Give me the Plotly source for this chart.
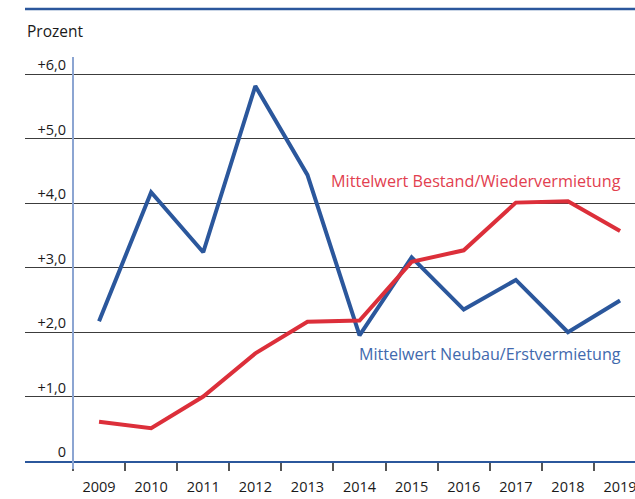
import plotly.graph_objects as go

# ---- data ----
years = [str(y) for y in range(2009, 2020)]
neubau = [2.17, 4.17, 3.24, 5.82, 4.44, 1.95, 3.16, 2.35, 2.81, 2.00, 2.49]
bestand = [0.61, 0.51, 1.00, 1.67, 2.16, 2.18, 3.09, 3.27, 4.01, 4.03, 3.57]
y_tickvals = [0, 1, 2, 3, 4, 5, 6]
y_ticktext = ["0", "+1,0", "+2,0", "+3,0", "+4,0", "+5,0", "+6,0"]
label_bestand = "Mittelwert Bestand/Wiedervermietung"
label_neubau = "Mittelwert Neubau/Erstvermietung"
y_title = "Prozent"

BLUE = "#2b579c"
RED = "#dc2f3a"
FONT = "Open Sans"

x_range = [-1.421, 10.287]
y_range = [0, 6.27]
yaxis_pos = (-0.5 - x_range[0]) / (x_range[1] - x_range[0])

fig = go.Figure()
fig.add_trace(go.Scatter(x=years, y=neubau, mode="lines",
                         line=dict(color=BLUE, width=4), name=label_neubau))
fig.add_trace(go.Scatter(x=years, y=bestand, mode="lines",
                         line=dict(color=RED, width=4), name=label_bestand))

fig.update_layout(
    width=635, height=499,
    margin=dict(l=25, r=0, t=57, b=38, autoexpand=False),
    paper_bgcolor="white", plot_bgcolor="white",
    showlegend=False,
    font=dict(family=FONT, color="#1a1a1a"),
    xaxis=dict(
        type="category", range=x_range, automargin=False,
        showline=True, linecolor=BLUE, linewidth=2,
        ticks="outside", tickson="boundaries", ticklen=8,
        tickcolor="#555555", tickwidth=1.5,
        showgrid=False, zeroline=False,
        tickfont=dict(size=14.5, color="#1a1a1a"),
        ticklabelstandoff=12,
    ),
    yaxis=dict(
        range=y_range, anchor="free", position=yaxis_pos, automargin=False,
        showline=True, linecolor="#8ca5d2", linewidth=2,
        showgrid=True, gridcolor="#3c3c3c", gridwidth=1.2,
        zeroline=False, ticks="",
        tickvals=y_tickvals, ticktext=y_ticktext,
        tickfont=dict(size=14.5, color="#1a1a1a"),
        ticklabelshift=-9, ticklabelstandoff=3,
    ),
)

# top rule
fig.add_shape(type="line", xref="paper", yref="paper", x0=0, x1=1,
              y0=1.119, y1=1.119, line=dict(color=BLUE, width=2.5))
# y-axis line extension below the zero line
fig.add_shape(type="line", xref="paper", yref="paper", x0=yaxis_pos, x1=yaxis_pos,
              y0=0, y1=-0.02, line=dict(color="#8ca5d2", width=2))

fig.add_annotation(text=y_title, xref="paper", yref="paper", x=0, y=1.064,
                   xanchor="left", yanchor="middle", showarrow=False,
                   font=dict(size=15.5, color="#1a1a1a"))
fig.add_annotation(text=label_bestand, xref="x", yref="y", x=4.413, y=4.34,
                   xanchor="left", yanchor="middle", showarrow=False,
                   font=dict(size=16.2, color="#e2404f"))
fig.add_annotation(text=label_neubau, xref="x", yref="y", x=4.951, y=1.66,
                   xanchor="left", yanchor="middle", showarrow=False,
                   font=dict(size=16.1, color="#4169ad"))

fig.write_html("out.html", config={"displayModeBar": False},
               post_script="document.body.style.margin='0';")
